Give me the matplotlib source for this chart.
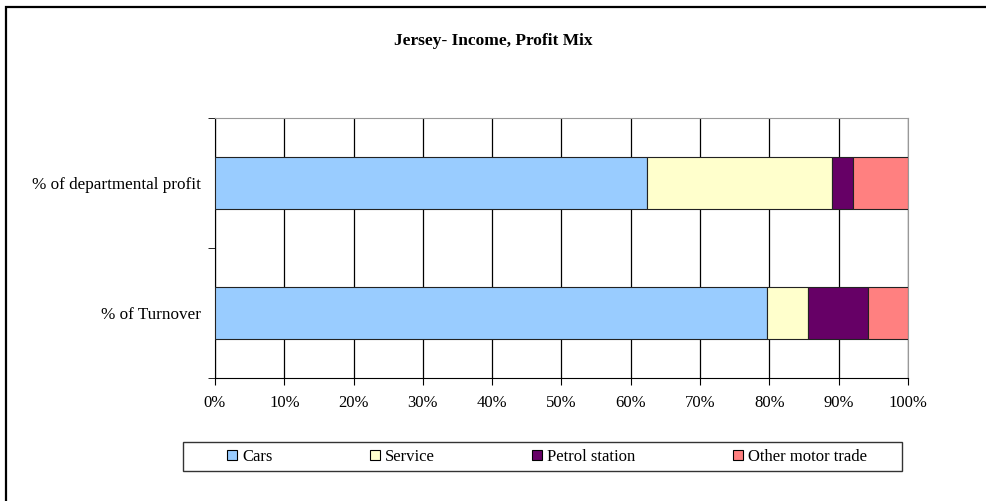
import matplotlib.pyplot as plt
import numpy as np
from matplotlib.patches import Rectangle

plt.rcParams['font.family'] = ['Liberation Serif', 'DejaVu Serif']

# shares per department, bottom row first
categories = ["% of Turnover", "% of departmental profit"]
series_names = ["Cars", "Service", "Petrol station", "Other motor trade"]
cars = [79.6, 62.3]
service = [6.0, 26.8]
petrol = [8.7, 2.9]
other = [5.7, 8.0]
colors = ["#99CCFF", "#FFFFCC", "#660066", "#FF8080"]
x_ticks = [0, 10, 20, 30, 40, 50, 60, 70, 80, 90, 100]

W, H = 987, 501
fig = plt.figure(figsize=(W / 100, H / 100), dpi=100)

# outer chart frame
fig.patches.append(Rectangle((6 / W, -0.02), 1.0, 1 - 7 / H + 0.02,
                             transform=fig.transFigure, fill=False,
                             edgecolor="black", linewidth=1.6))

ax = fig.add_axes([215 / W, 1 - 378 / H, 693 / W, 260 / H])

y = np.arange(len(categories))
left = np.zeros(len(categories))
for name, vals, col in zip(series_names, [cars, service, petrol, other], colors):
    ax.barh(y, vals, left=left, height=0.4, color=col, edgecolor="#222222",
            linewidth=0.8, label=name, zorder=3)
    left += np.array(vals)

ax.set_xlim(0, 100)
ax.set_ylim(-0.5, 1.5)
ax.set_xticks(x_ticks)
ax.set_xticklabels([f"{t}%" for t in x_ticks], fontsize=12)
ax.set_yticks(y)
ax.set_yticklabels(categories, fontsize=12.3)
ax.set_yticks([-0.5, 0.5, 1.5], minor=True)
ax.tick_params(axis="y", which="major", length=0, pad=10)
ax.tick_params(axis="y", which="minor", length=5, direction="out", color="black")
ax.tick_params(axis="x", length=5, direction="out", color="black", pad=7)

ax.xaxis.grid(True, color="black", linewidth=0.9, zorder=0)
ax.set_axisbelow(True)

for side in ["top", "right"]:
    ax.spines[side].set_color("#999999")
for side in ["left", "bottom"]:
    ax.spines[side].set_color("black")

fig.text(0.5, 1 - 41 / H, "Jersey- Income, Profit Mix", ha="center",
         va="center", fontsize=12.5, fontweight="bold")

# legend box drawn separately so the entries can sit centred inside it
fig.patches.append(Rectangle((183 / W, 1 - 471 / H), 719 / W, 29 / H,
                             transform=fig.transFigure, facecolor="white",
                             edgecolor="#333333", linewidth=1.0))
leg = fig.legend(loc="center", ncol=4,
                 bbox_to_anchor=(547 / W, 1 - 457 / H),
                 fontsize=12, frameon=False,
                 handlelength=0.6, handleheight=0.6, handletextpad=0.3,
                 columnspacing=5.85, borderaxespad=0, borderpad=0)
for h in leg.legend_handles:
    h.set_edgecolor("black")

fig.savefig("out.png", dpi=100)
